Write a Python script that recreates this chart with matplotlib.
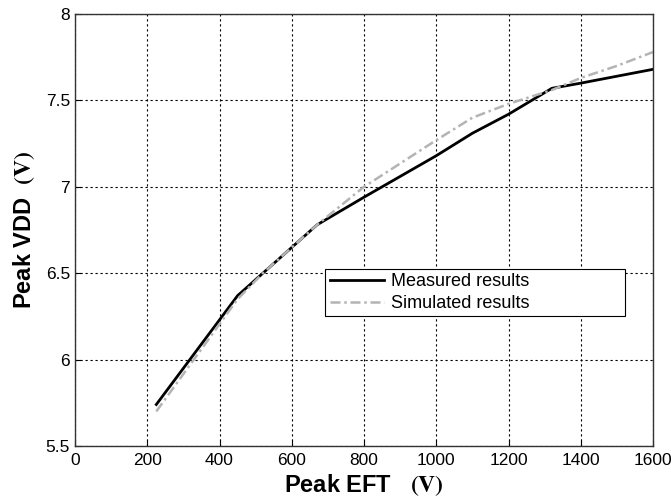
import matplotlib
matplotlib.use("Agg")
import matplotlib.pyplot as plt

# Measured and simulated peak VDD vs peak EFT voltage
measured_x = [225, 450, 520, 670, 800, 1000, 1100, 1200, 1320, 1400, 1500, 1600]
measured_y = [5.74, 6.37, 6.50, 6.78, 6.94, 7.18, 7.31, 7.42, 7.57, 7.60, 7.64, 7.68]
simulated_x = [225, 450, 520, 670, 800, 1000, 1100, 1200, 1320, 1400, 1500, 1600]
simulated_y = [5.70, 6.35, 6.50, 6.78, 7.00, 7.27, 7.40, 7.48, 7.56, 7.63, 7.70, 7.78]

x_ticks = [0, 200, 400, 600, 800, 1000, 1200, 1400, 1600]
y_ticks = [5.5, 6, 6.5, 7, 7.5, 8]
y_tick_labels = ["5.5", "6", "6.5", "7", "7.5", "8"]

plt.rcParams["font.family"] = ["Liberation Sans", "DejaVu Sans"]
plt.rcParams["mathtext.fontset"] = "stix"

fig = plt.figure(figsize=(6.71, 5.01), dpi=100)
ax = fig.add_axes([0.1118, 0.1098, 0.8614, 0.8622])

ax.plot(measured_x, measured_y, color="black", linewidth=2.0, label="Measured results")
ax.plot(simulated_x, simulated_y, color="#b4b4b4", linewidth=1.8,
        linestyle=(0, (4, 1.5, 1, 1.5)), label="Simulated results")

ax.set_xlim(0, 1600)
ax.set_ylim(5.5, 8)
ax.set_xticks(x_ticks)
ax.set_yticks(y_ticks)
ax.set_yticklabels(y_tick_labels)
ax.tick_params(direction="in", length=4, labelsize=12.5, width=0.8)
ax.tick_params(axis="x", pad=5)
ax.grid(True, color="black", linestyle=(0, (2, 2.5)), linewidth=0.8)
for s in ax.spines.values():
    s.set_linewidth(1.0)
    s.set_color("#333333")

ax.set_xlabel(r"Peak EFT   $\mathbf{(V)}$", fontsize=17, fontweight="bold", labelpad=3)
ax.set_ylabel(r"Peak VDD  $\mathbf{(V)}$", fontsize=17, fontweight="bold", labelpad=6)

leg = ax.legend(loc="lower left", bbox_to_anchor=(0.433, 0.30, 0.519, 0.13),
                mode="expand", fontsize=13, fancybox=False, framealpha=1,
                edgecolor="black", borderaxespad=0, handlelength=3.0,
                labelspacing=0.25, borderpad=0.25, handletextpad=0.4)
leg.get_frame().set_linewidth(0.8)

fig.savefig("out.png", dpi=100)
